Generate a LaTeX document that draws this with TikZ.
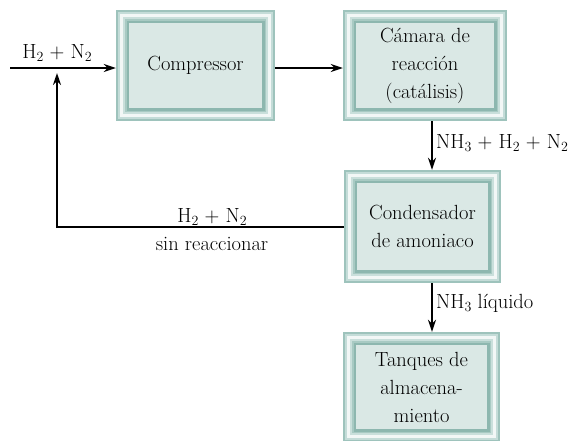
\documentclass[tikz,border=0pt]{standalone}
\usepackage{fontspec}
\usetikzlibrary{arrows.meta}
\definecolor{bA}{HTML}{9EC3BC}
\definecolor{bB}{HTML}{C4DCD8}
\definecolor{bC}{HTML}{F2F7F6}
\definecolor{bD}{HTML}{C9DFDB}
\definecolor{bE}{HTML}{A8CAC3}
\definecolor{bF}{HTML}{8DB7AF}
\definecolor{bFill}{HTML}{DAE8E5}
\newcommand{\sbs}[1]{\raisebox{-0.35ex}{\fontsize{14}{14}\selectfont #1}}
\newcommand{\lay}[2]{\fill[#1] ([shift={(#2pt,#2pt)}]path picture bounding box.south west) rectangle ([shift={(-#2pt,-#2pt)}]path picture bounding box.north east);}
\tikzset{
  procbox/.style={minimum width=#1, inner sep=0pt, align=center,
    font=\fontsize{20.5}{28}\selectfont,
    path picture={
      \lay{bA}{0}\lay{bB}{2}\lay{bC}{4}\lay{bD}{7}\lay{bE}{9}\lay{bF}{10.5}\lay{bFill}{13}
    }},
  arr/.style={line width=2pt, -{Stealth[length=12pt,width=8pt]}},
  ln/.style={line width=2pt},
  lbl/.style={font=\fontsize{20.5}{28}\selectfont, inner sep=0pt}
}
\begin{document}
\begin{tikzpicture}[x=1pt,y=-1pt]
\useasboundingbox (0,0) rectangle (571,440);
\node[procbox=159pt, minimum height=111pt] (comp) at (195.5,65.5) {Compressor};
\node[procbox=164pt, minimum height=111pt] (cam) at (425,65.5) {Cámara de\\reacción\\(catálisis)};
\node[procbox=157pt, minimum height=113pt] (cond) at (422.5,226.5) {Condensador\\de amoniaco};
\node[procbox=157pt, minimum height=110pt] (tank) at (421.5,387) {Tanques de\\almacena-\\miento};
\coordinate (in) at (10,68);
\coordinate (vx) at (432,0);
\coordinate (ret) at (57,227);
\coordinate (rettip) at (57,73);
\draw[arr] (in) -- (comp.west |- in);
\draw[arr] (comp.east |- in) -- (cam.west |- in);
\draw[arr] (cam.south -| vx) -- (cond.north -| vx);
\draw[arr] (cond.south -| vx) -- (tank.north -| vx);
\draw[ln] (cond.west |- ret) -- (ret);
\draw[arr] ([yshift=-1pt]ret) -- (rettip);
\node[lbl, anchor=base] (l1) at (57,58) {H\sbs{2} + N\sbs{2}};
\node[lbl, anchor=base west] (l2) at (436,148) {NH\sbs{3} + H\sbs{2} + N\sbs{2}};
\node[lbl, anchor=base west] (l3) at (436,308) {NH\sbs{3} líquido};
\node[lbl, anchor=base] (l4) at (212,222) {H\sbs{2} + N\sbs{2}};
\node[lbl, anchor=base] (l5) at (212,250) {sin reaccionar};
\end{tikzpicture}
\end{document}
